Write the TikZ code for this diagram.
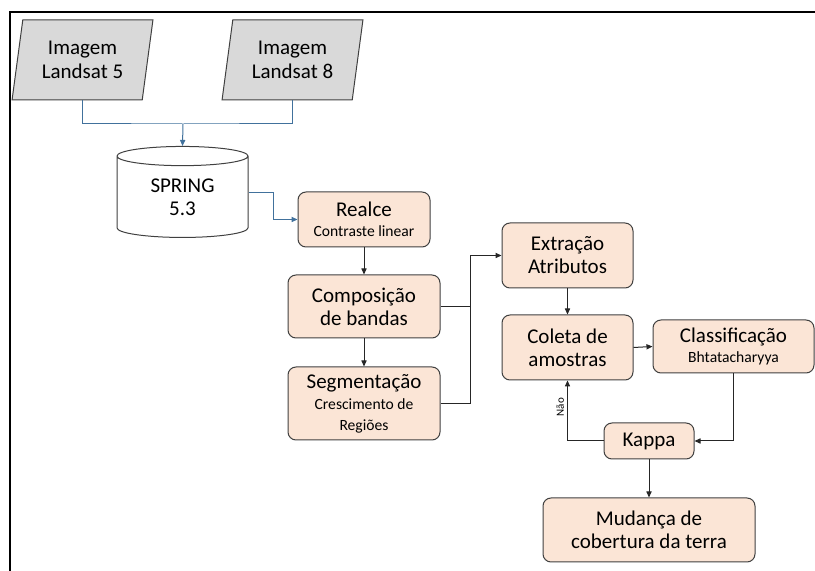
\documentclass[tikz,border=0pt]{standalone}
\usepackage{fontspec}
\setmainfont{Carlito}
\usepackage{tikz}
\usetikzlibrary{shapes.geometric,arrows.meta}

\definecolor{boxfill}{HTML}{FBE5D6}
\definecolor{boxline}{HTML}{404040}
\definecolor{parfill}{HTML}{D9D9D9}
\definecolor{linkblue}{HTML}{41719C}
\newcommand{\smalltxt}{\fontsize{7.8}{9}\selectfont}

\begin{document}
\begin{tikzpicture}[x=0.5pt, y=-0.5pt,
	>={Triangle[length=3pt,width=2.6pt]},
	imgbox/.style={trapezium, trapezium left angle=79, trapezium right angle=101, trapezium stretches=true, draw=boxline, fill=parfill, line width=0.5pt, minimum width=70.5pt, minimum height=40pt, align=center, inner sep=0pt, font=\fontsize{10.5}{12}\selectfont},
	procbox/.style={rectangle, rounded corners=4pt, draw=boxline, fill=boxfill, line width=0.5pt, align=center, inner sep=0pt, font=\fontsize{10.5}{11.5}\selectfont},
	blueline/.style={draw=linkblue, line width=0.5pt},
	blackline/.style={draw=black!85, line width=0.5pt}]
	\useasboundingbox (0,0) rectangle (815,571);
	\draw[line width=1pt] (10,571) -- (10,12) -- (815,12);

	\node[imgbox] (img5) at (82.5,60) {Imagem\\Landsat 5};
	\node[imgbox] (img8) at (292.5,60) {Imagem\\Landsat 8};
	\node[cylinder, shape border rotate=90, aspect=0.3, draw=boxline, fill=white, line width=0.5pt, minimum width=65.5pt, minimum height=45.5pt, align=center, inner sep=0pt, font=\fontsize{10.5}{11.5}\selectfont] (spring) at (182.5,197) {SPRING\\5.3};

	\node[procbox, minimum width=66pt, minimum height=27.5pt] (realce) at (364,219.5) {Realce\\[-1.5pt]{\smalltxt Contraste linear}};
	\node[procbox, minimum width=76pt, minimum height=31.5pt] (comp) at (364,306.5) {Composição\\de bandas};
	\node[procbox, minimum width=76pt, minimum height=36.5pt] (seg) at (364,403.5) {Segmentação\\[-1pt]{\smalltxt Crescimento de}\\[-1pt]{\smalltxt Regiões}};
	\node[procbox, minimum width=65.5pt, minimum height=32.5pt] (extr) at (567.5,255.5) {Extração\\Atributos};
	\node[procbox, minimum width=65.5pt, minimum height=32.5pt] (coleta) at (567.5,347.5) {Coleta de\\amostras};
	\node[procbox, minimum width=80.5pt, minimum height=26.5pt] (class) at (733.5,346.5) {Classificação\\[-1.5pt]{\smalltxt Bhtatacharyya}};
	\node[procbox, minimum width=45pt, minimum height=18pt] (kappa) at (649,441) {Kappa};
	\node[procbox, minimum width=106pt, minimum height=32pt] (mud) at (649,530) {Mudança de\\cobertura da terra};

	\coordinate (join) at (183,124);
	\coordinate (bend) at (470,255.5);

	\draw[blueline] (img5.south) |- (join) -| (img8.south);
	\draw[blueline, ->, color=linkblue] (join) -- (spring.top);
	\draw[blueline, ->, color=linkblue] ([yshift=2pt]spring.east) -- ++(25,0) |- (realce.west);

	\draw[blackline, ->] (realce.south) -- (comp.north);
	\draw[blackline, ->] (comp.south) -- (seg.north);
	\draw[blackline] (comp.east) -- (comp.east -| bend);
	\draw[blackline, ->] (seg.east) -| (bend) -- (extr.west);
	\draw[blackline, ->] (extr.south) -- (coleta.north);
	\draw[blackline, ->] (coleta.east) -- (class.west);
	\draw[blackline, ->] (class.south) |- (kappa.east);
	\draw[blackline, ->] (kappa.west) -| node[pos=0.78, anchor=south, rotate=90, inner sep=1.5pt, font=\fontsize{5.5}{6}\selectfont] {Não} (coleta.south);
	\draw[blackline, ->] (kappa.south) -- (mud.north);
\end{tikzpicture}
\end{document}
